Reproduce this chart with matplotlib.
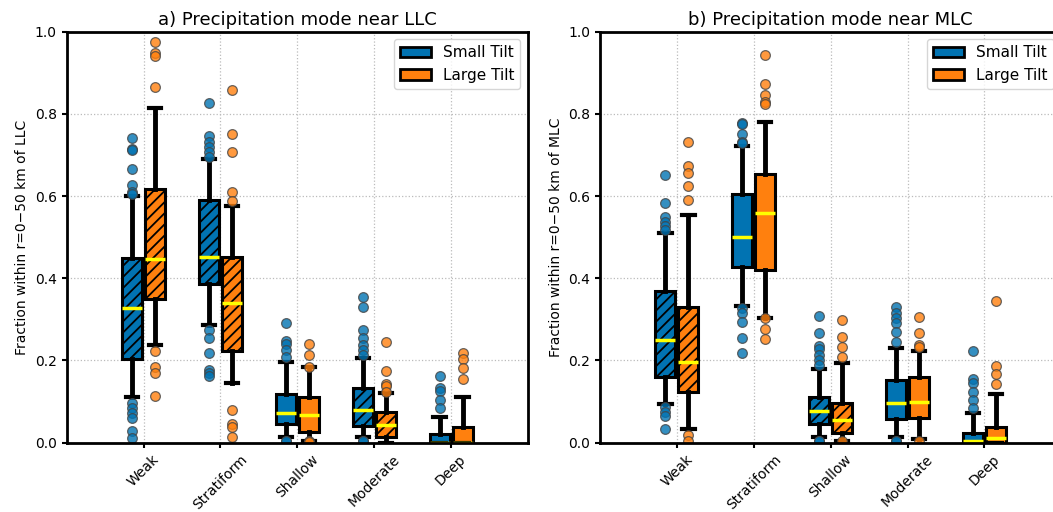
import matplotlib.pyplot as plt
import numpy as np
from matplotlib.patches import Patch

modes = ['Weak', 'Stratiform', 'Shallow', 'Moderate', 'Deep']

# ---- panel a) near LLC ----
llc_small_q1 = [0.203, 0.386, 0.045, 0.041, 0.0]
llc_small_med = [0.327, 0.452, 0.071, 0.080, 0.0]
llc_small_q3 = [0.449, 0.590, 0.118, 0.132, 0.020]
llc_small_lo = [0.112, 0.286, 0.015, 0.015, 0.0]
llc_small_hi = [0.600, 0.690, 0.197, 0.205, 0.063]
llc_small_fliers = [
    [0.742, 0.715, 0.712, 0.666, 0.627, 0.609, 0.605, 0.097, 0.084, 0.071, 0.059, 0.028, 0.012],
    [0.826, 0.745, 0.732, 0.720, 0.708, 0.696, 0.274, 0.254, 0.217, 0.177, 0.169, 0.162],
    [0.290, 0.247, 0.240, 0.225, 0.209, 0.005, 0.003],
    [0.354, 0.331, 0.274, 0.254, 0.238, 0.225, 0.213, 0.005, 0.003],
    [0.162, 0.132, 0.125, 0.104, 0.084],
]
llc_large_q1 = [0.349, 0.223, 0.025, 0.015, 0.0]
llc_large_med = [0.448, 0.341, 0.067, 0.043, 0.0]
llc_large_q3 = [0.617, 0.452, 0.110, 0.075, 0.039]
llc_large_lo = [0.238, 0.144, 0.005, 0.0, 0.0]
llc_large_hi = [0.815, 0.577, 0.183, 0.120, 0.112]
llc_large_fliers = [
    [0.974, 0.947, 0.941, 0.866, 0.223, 0.183, 0.169, 0.114],
    [0.858, 0.750, 0.707, 0.611, 0.588, 0.080, 0.045, 0.037, 0.015],
    [0.240, 0.213, 0.183, 0.005, 0.002],
    [0.246, 0.174, 0.142, 0.137, 0.124],
    [0.219, 0.203, 0.181, 0.154],
]
llc_hatched = [True, True, False, True, False]

# ---- panel b) near MLC ----
mlc_small_q1 = [0.159, 0.427, 0.045, 0.057, 0.0]
mlc_small_med = [0.250, 0.501, 0.077, 0.097, 0.003]
mlc_small_q3 = [0.370, 0.605, 0.112, 0.153, 0.024]
mlc_small_lo = [0.093, 0.333, 0.013, 0.013, 0.0]
mlc_small_hi = [0.509, 0.722, 0.179, 0.230, 0.073]
mlc_small_fliers = [
    [0.651, 0.582, 0.550, 0.537, 0.526, 0.518, 0.088, 0.075, 0.065, 0.033],
    [0.779, 0.775, 0.750, 0.732, 0.728, 0.327, 0.315, 0.294, 0.255, 0.217],
    [0.309, 0.268, 0.235, 0.228, 0.213, 0.201, 0.189, 0.005, 0.003],
    [0.331, 0.315, 0.303, 0.290, 0.270, 0.246, 0.005, 0.003],
    [0.223, 0.154, 0.145, 0.124, 0.104, 0.084],
]
mlc_large_q1 = [0.124, 0.420, 0.023, 0.059, 0.0]
mlc_large_med = [0.197, 0.560, 0.055, 0.100, 0.012]
mlc_large_q3 = [0.331, 0.653, 0.096, 0.161, 0.039]
mlc_large_lo = [0.034, 0.304, 0.005, 0.010, 0.0]
mlc_large_hi = [0.554, 0.781, 0.193, 0.222, 0.118]
mlc_large_fliers = [
    [0.732, 0.672, 0.655, 0.625, 0.590, 0.019, 0.005],
    [0.943, 0.873, 0.846, 0.830, 0.824, 0.304, 0.276, 0.252],
    [0.299, 0.256, 0.234, 0.208, 0.005],
    [0.307, 0.266, 0.238, 0.234, 0.003],
    [0.345, 0.187, 0.167, 0.142],
]
mlc_hatched = [True, False, True, False, False]

blue = '#0173b2'
orange = '#ff800e'


def make_stats(q1, med, q3, lo, hi, fliers):
    out = []
    for i in range(len(q1)):
        out.append({'q1': q1[i], 'med': med[i], 'q3': q3[i],
                    'whislo': lo[i], 'whishi': hi[i],
                    'fliers': np.array(fliers[i])})
    return out


def draw_group(ax, stats, pos, color, hatched):
    bp = ax.bxp(stats, positions=pos, widths=0.26, patch_artist=True,
                boxprops=dict(facecolor=color, edgecolor='black', linewidth=2.2),
                medianprops=dict(color='yellow', linewidth=2.5),
                whiskerprops=dict(color='black', linewidth=3.5),
                capprops=dict(color='black', linewidth=3),
                capwidths=0.16,
                flierprops=dict(marker='o', markerfacecolor=color, markeredgecolor='#444444',
                                markersize=7, alpha=0.8, markeredgewidth=0.9),
                manage_ticks=False)
    for box, h in zip(bp['boxes'], hatched):
        if h:
            box.set_hatch('///')


plt.rcParams['hatch.linewidth'] = 1.3
fig = plt.figure(figsize=(10.53, 5.12), dpi=100)
ax1 = fig.add_axes([0.0633, 0.1354, 0.4381, 0.8027])
ax2 = fig.add_axes([0.5698, 0.1354, 0.4381, 0.8027])

x = np.arange(1, len(modes) + 1)
panels = [
    (ax1, make_stats(llc_small_q1, llc_small_med, llc_small_q3, llc_small_lo, llc_small_hi, llc_small_fliers),
     make_stats(llc_large_q1, llc_large_med, llc_large_q3, llc_large_lo, llc_large_hi, llc_large_fliers),
     llc_hatched, 'a) Precipitation mode near LLC', 'LLC'),
    (ax2, make_stats(mlc_small_q1, mlc_small_med, mlc_small_q3, mlc_small_lo, mlc_small_hi, mlc_small_fliers),
     make_stats(mlc_large_q1, mlc_large_med, mlc_large_q3, mlc_large_lo, mlc_large_hi, mlc_large_fliers),
     mlc_hatched, 'b) Precipitation mode near MLC', 'MLC'),
]

for ax, small, large, hatched, title, center in panels:
    ax.grid(True, linestyle=':', color='#bbbbbb', linewidth=0.9, zorder=0)
    ax.set_axisbelow(True)
    draw_group(ax, small, x - 0.15, blue, hatched)
    draw_group(ax, large, x + 0.15, orange, hatched)
    ax.set_xlim(0, 6)
    ax.set_ylim(0, 1)
    ax.set_xticks(x)
    ax.set_xticklabels(modes, rotation=45, fontsize=10)
    ax.set_yticks(np.arange(0, 1.01, 0.2))
    ax.tick_params(labelsize=10, width=1.5)
    ax.set_ylabel('Fraction within r=0\u221250 km of ' + center, fontsize=10)
    ax.set_title(title, fontsize=13, pad=5)
    for s in ax.spines.values():
        s.set_linewidth(2)
    ax.legend(handles=[Patch(facecolor=blue, edgecolor='black', linewidth=2, label='Small Tilt'),
                       Patch(facecolor=orange, edgecolor='black', linewidth=2, label='Large Tilt')],
              loc='upper right', fontsize=11)

fig.savefig('out.png', dpi=100)
